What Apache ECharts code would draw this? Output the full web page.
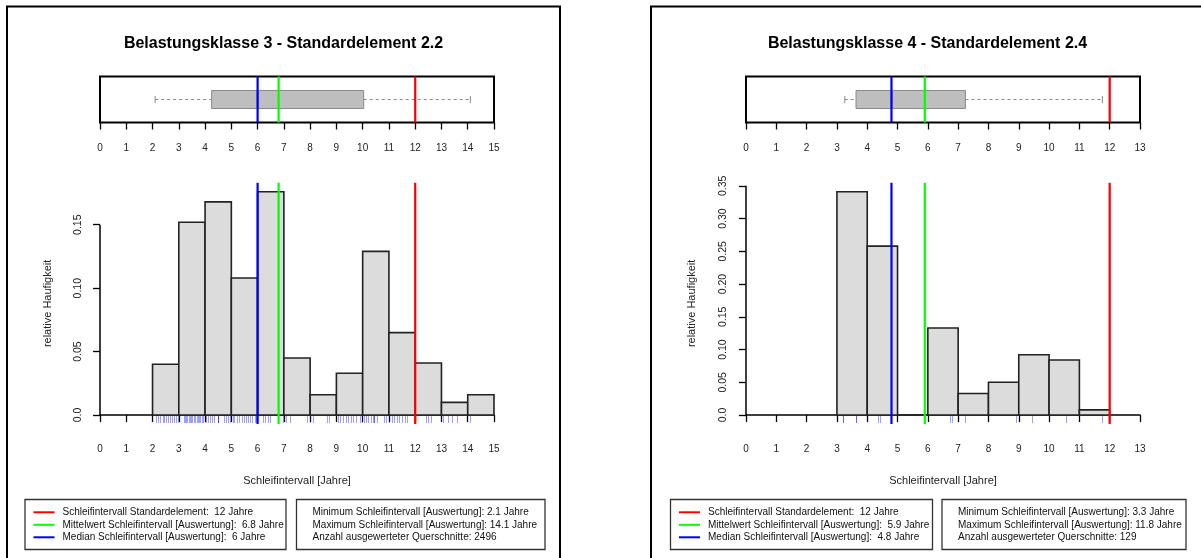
<!DOCTYPE html>
<html><head><meta charset="utf-8">
<script src="https://cdn.jsdelivr.net/npm/echarts@6/dist/echarts.min.js"></script>
<style>html,body{margin:0;padding:0;background:#fff}#c{width:1201px;height:558px}</style>
</head><body><div id="c"></div>
<script>
// ---------------- Data: left panel ----------------
const leftTitle = 'Belastungsklasse 3 - Standardelement 2.2';
const leftBinEdges = [2, 3, 4, 5, 6, 7, 8, 9, 10, 11, 12, 13, 14, 15];
const leftFreq = [0.040, 0.152, 0.168, 0.108, 0.176, 0.045, 0.016, 0.033, 0.129, 0.065, 0.041, 0.010, 0.016];
const leftRug = [2.15, 2.22, 2.3, 2.38, 2.45, 2.52, 2.6, 2.68, 2.75, 2.83, 2.9, 2.98,
  3.18, 3.22, 3.28, 3.32, 3.38, 3.42, 3.48, 3.52, 3.58, 3.62, 3.68, 3.72, 3.78, 3.82, 3.88, 3.92,
  4.02, 4.1, 4.18, 4.25, 4.35, 4.5, 4.5, 4.5, 4.72, 4.8, 4.88, 4.95, 5.05, 5.12, 5.2, 5.3, 5.4,
  5.48, 5.55, 5.62, 5.7, 5.8, 5.9, 5.95, 6.22, 6.3, 6.4, 6.47, 6.98, 7.1, 7.22, 7.87, 8.0, 8.12,
  8.63, 8.72, 9.07, 9.15, 9.25, 9.35, 9.45, 9.55, 9.65, 9.75, 9.9, 9.98, 10.05, 10.12, 10.2,
  10.3, 10.4, 10.45, 10.45, 10.53, 10.8, 10.9, 11.0, 11.1, 11.2, 11.3, 11.4, 11.5, 11.6, 11.67,
  12.43, 12.5, 12.6, 13.07, 13.25, 13.4, 13.58, 14.08];
const leftBoxStats = [2.1, 4.25, 6.0, 10.04, 14.1]; // min, q1, median, q3, max
const leftStd = 12;
const leftMean = 6.8;
const leftMedian = 6;
const leftMin = 2.1;
const leftMax = 14.1;
const leftCount = 2496;
const leftXTicks = [0, 1, 2, 3, 4, 5, 6, 7, 8, 9, 10, 11, 12, 13, 14, 15];
const leftYTicks = [0, 0.05, 0.10, 0.15];
const leftYTickLabels = ['0.0', '0.05', '0.10', '0.15'];

// ---------------- Data: right panel ----------------
const rightTitle = 'Belastungsklasse 4 - Standardelement 2.4';
const rightBinEdges = [3, 4, 5, 6, 7, 8, 9, 10, 11, 12];
const rightFreq = [0.341, 0.258, 0, 0.133, 0.033, 0.050, 0.092, 0.084, 0.008];
const rightRug = [3.21, 3.21, 3.62, 3.62, 4.37, 4.43, 4.8, 6.73, 6.79, 7.24, 8.9, 9.43, 10.55, 11.76];
const rightBoxStats = [3.26, 3.63, 4.8, 7.24, 11.76];
const rightStd = 12;
const rightMean = 5.9;
const rightMedian = 4.8;
const rightMin = 3.3;
const rightMax = 11.8;
const rightCount = 129;
const rightXTicks = [0, 1, 2, 3, 4, 5, 6, 7, 8, 9, 10, 11, 12, 13];
const rightYTicks = [0, 0.05, 0.10, 0.15, 0.20, 0.25, 0.30, 0.35];
const rightYTickLabels = ['0.0', '0.05', '0.10', '0.15', '0.20', '0.25', '0.30', '0.35'];

const xAxisTitle = 'Schleifintervall [Jahre]';
const yAxisTitle = 'relative Haufigkeit';

// ---------------- Build ----------------
const FONT = '"Liberation Sans", Arial, Helvetica, sans-serif';
const RED = '#ff0000', GREEN = '#00ff00', BLUE = '#0000ff';

const panels = [
  { title: leftTitle, edges: leftBinEdges, freq: leftFreq, rug: leftRug, box: leftBoxStats,
    std: leftStd, mean: leftMean, median: leftMedian, min: leftMin, max: leftMax, n: leftCount,
    xTicks: leftXTicks, yTicks: leftYTicks, yLabels: leftYTickLabels,
    L: { frameX: 7, frameW: 553, x0: 100, w: 394, leg1X: 25, leg1W: 261, leg2X: 296.5, leg2W: 248.5, yNameGap: 47, yLabMargin: 16 } },
  { title: rightTitle, edges: rightBinEdges, freq: rightFreq, rug: rightRug, box: rightBoxStats,
    std: rightStd, mean: rightMean, median: rightMedian, min: rightMin, max: rightMax, n: rightCount,
    xTicks: rightXTicks, yTicks: rightYTicks, yLabels: rightYTickLabels,
    L: { frameX: 651, frameW: 553, x0: 746, w: 394, leg1X: 670.5, leg1W: 262, leg2X: 942, leg2W: 244, yNameGap: 48.5, yLabMargin: 17 } }
];

const grids = [], xAxes = [], yAxes = [], series = [], graphics = [];
const BOX_TOP = 76.5, BOX_H = 46, HIST_TOP = 182.8, HIST_H = 241.2;

function fmt(v) { return String(v); }

panels.forEach((d, i) => {
  const L = d.L;
  const gb = i * 2, gh = i * 2 + 1;
  const xMax = d.xTicks[d.xTicks.length - 1];
  const fmax = Math.max.apply(null, d.freq);
  const yMin = -fmax * 0.04, yMax = fmax * 1.04;

  grids.push({ left: L.x0, top: BOX_TOP, width: L.w, height: BOX_H, show: true, borderColor: '#000', borderWidth: 2, backgroundColor: 'transparent' });
  grids.push({ left: L.x0, top: HIST_TOP, width: L.w, height: HIST_H, show: false });

  const labelStyle = { fontSize: 10, color: '#222', fontFamily: FONT };
  xAxes.push({ gridIndex: gb, type: 'value', min: 0, max: xMax, interval: 1,
    axisLine: { show: false }, axisTick: { show: true, length: 7, lineStyle: { color: '#000', width: 1.3 } },
    axisLabel: Object.assign({ margin: 21, showMinLabel: true, showMaxLabel: true }, labelStyle),
    splitLine: { show: false } });
  xAxes.push({ gridIndex: gh, type: 'value', min: 0, max: xMax, interval: 1,
    axisLine: { show: true, lineStyle: { color: '#000', width: 1.5 } },
    axisTick: { show: true, length: 7, lineStyle: { color: '#000', width: 1.3 } },
    axisLabel: Object.assign({ margin: 20, showMinLabel: true, showMaxLabel: true }, labelStyle),
    splitLine: { show: false },
    name: xAxisTitle, nameLocation: 'middle', nameGap: 51,
    nameTextStyle: { fontSize: 11, color: '#222', fontFamily: FONT } });

  yAxes.push({ gridIndex: gb, type: 'value', min: 0, max: 1, show: false });
  yAxes.push({ gridIndex: gh, type: 'value', min: yMin, max: yMax,
    axisLine: { show: false },
    axisTick: { show: true, customValues: d.yTicks, length: 7, lineStyle: { color: '#000', width: 1.3 } },
    axisLabel: Object.assign({ customValues: d.yTicks, rotate: 90, margin: L.yLabMargin,
      formatter: (v) => { const k = d.yTicks.findIndex(t => Math.abs(t - v) < 1e-9); return k >= 0 ? d.yLabels[k] : ''; } }, labelStyle, { fontSize: 10.5 }),
    splitLine: { show: false },
    name: yAxisTitle, nameLocation: 'middle', nameGap: L.yNameGap, nameRotate: 90,
    nameTextStyle: { fontSize: 11, color: '#222', fontFamily: FONT } });

  // --- Boxplot (horizontal) ---
  series.push({ type: 'custom', xAxisIndex: gb, yAxisIndex: gb, silent: true, z: 2,
    data: [d.box],
    renderItem: (params, api) => {
      const cs = params.coordSys;
      const cy = cs.y + cs.height / 2;
      const xs = [0, 1, 2, 3, 4].map(k => api.coord([api.value(k), 0.5])[0]);
      const dash = { stroke: '#8a8a8a', lineWidth: 1, lineDash: [3, 3] };
      const solid = { stroke: '#8a8a8a', lineWidth: 1 };
      return { type: 'group', children: [
        { type: 'line', shape: { x1: xs[0], y1: cy, x2: xs[1], y2: cy }, style: dash },
        { type: 'line', shape: { x1: xs[3], y1: cy, x2: xs[4], y2: cy }, style: dash },
        { type: 'line', shape: { x1: xs[0], y1: cy - 3.6, x2: xs[0], y2: cy + 3.6 }, style: solid },
        { type: 'line', shape: { x1: xs[4], y1: cy - 3.6, x2: xs[4], y2: cy + 3.6 }, style: solid },
        { type: 'rect', shape: { x: xs[1], y: cy - 9, width: xs[3] - xs[1], height: 18 }, style: { fill: '#bebebe', stroke: '#8a8a8a', lineWidth: 1 } },
        { type: 'line', shape: { x1: xs[2], y1: cy - 9, x2: xs[2], y2: cy + 9 }, style: { stroke: '#8a8a8a', lineWidth: 2 } }
      ] };
    } });

  const vData = [
    { value: [d.median, 0.5], itemStyle: { color: BLUE } },
    { value: [d.mean, 0.5], itemStyle: { color: GREEN } },
    { value: [d.std, 0.5], itemStyle: { color: RED } }
  ];
  const vRender = (params, api) => {
    const cs = params.coordSys;
    const x = api.coord([api.value(0), 0])[0];
    return { type: 'line', shape: { x1: x, y1: cs.y, x2: x, y2: cs.y + cs.height }, style: { stroke: api.visual('color'), lineWidth: 2.2 } };
  };
  series.push({ type: 'custom', xAxisIndex: gb, yAxisIndex: gb, silent: true, z: 5, data: vData, renderItem: vRender });

  // --- Histogram bars ---
  const bars = d.freq.map((f, k) => [d.edges[k], d.edges[k + 1], f]);
  series.push({ type: 'custom', xAxisIndex: gh, yAxisIndex: gh, silent: true, z: 2,
    data: bars, encode: { x: [0, 1], y: 2 },
    renderItem: (params, api) => {
      const p0 = api.coord([api.value(0), 0]);
      const p1 = api.coord([api.value(1), api.value(2)]);
      return { type: 'rect', shape: { x: p0[0], y: p1[1], width: p1[0] - p0[0], height: p0[1] - p1[1] },
        style: { fill: '#dcdcdc', stroke: '#222', lineWidth: 1.6 } };
    } });

  // --- Rug ---
  series.push({ type: 'custom', xAxisIndex: gh, yAxisIndex: gh, silent: true, z: 3,
    data: d.rug.map(v => [v, 0]),
    renderItem: (params, api) => {
      const cs = params.coordSys;
      const x = Math.round(api.coord([api.value(0), 0])[0]) + 0.5;
      const yb = cs.y + cs.height;
      return { type: 'line', shape: { x1: x, y1: yb - 1, x2: x, y2: yb - 8 }, style: { stroke: 'rgba(0,0,255,0.38)', lineWidth: 1 } };
    } });

  // --- y axis line (first to last tick) ---
  series.push({ type: 'custom', xAxisIndex: gh, yAxisIndex: gh, silent: true, z: 3,
    data: [[d.yTicks[0], d.yTicks[d.yTicks.length - 1]]],
    renderItem: (params, api) => {
      const cs = params.coordSys;
      const a = api.coord([0, api.value(0)]);
      const b = api.coord([0, api.value(1)]);
      return { type: 'line', shape: { x1: cs.x, y1: a[1], x2: cs.x, y2: b[1] }, style: { stroke: '#000', lineWidth: 1.5 } };
    } });

  series.push({ type: 'custom', xAxisIndex: gh, yAxisIndex: gh, silent: true, z: 5, data: vData, renderItem: vRender });

  // --- Frame ---
  graphics.push({ type: 'rect', shape: { x: L.frameX, y: 6.5, width: L.frameW, height: 600 }, style: { fill: 'none', stroke: '#000', lineWidth: 2 }, silent: true });
  // --- Title ---
  graphics.push({ type: 'text', x: L.frameX + L.frameW / 2, y: 44,
    style: { text: d.title, fill: '#000', font: 'bold 16px ' + FONT, align: 'center', verticalAlign: 'middle', textAlign: 'center', textVerticalAlign: 'middle' } });
  // --- Legend boxes ---
  const LY = 499.5, LH = 50, rows = [512.3, 524.8, 537.3];
  graphics.push({ type: 'rect', shape: { x: L.leg1X, y: LY, width: L.leg1W, height: LH }, style: { fill: 'none', stroke: '#333', lineWidth: 1.3 } });
  graphics.push({ type: 'rect', shape: { x: L.leg2X, y: LY, width: L.leg2W, height: LH }, style: { fill: 'none', stroke: '#333', lineWidth: 1.3 } });
  const leg1 = [
    [RED, 'Schleifintervall Standardelement:  ' + fmt(d.std) + ' Jahre'],
    [GREEN, 'Mittelwert Schleifintervall [Auswertung]:  ' + fmt(d.mean) + ' Jahre'],
    [BLUE, 'Median Schleifintervall [Auswertung]:  ' + fmt(d.median) + ' Jahre']
  ];
  leg1.forEach((e, k) => {
    graphics.push({ type: 'line', shape: { x1: L.leg1X + 8.5, y1: rows[k], x2: L.leg1X + 29.5, y2: rows[k] }, style: { stroke: e[0], lineWidth: 2 } });
    graphics.push({ type: 'text', x: L.leg1X + 37.5, y: rows[k],
      style: { text: e[1], fill: '#111', font: '10px ' + FONT, align: 'left', verticalAlign: 'middle', textAlign: 'left', textVerticalAlign: 'middle' } });
  });
  const leg2 = [
    'Minimum Schleifintervall [Auswertung]: ' + fmt(d.min) + ' Jahre',
    'Maximum Schleifintervall [Auswertung]: ' + fmt(d.max) + ' Jahre',
    'Anzahl ausgewerteter Querschnitte: ' + fmt(d.n)
  ];
  leg2.forEach((t, k) => {
    graphics.push({ type: 'text', x: L.leg2X + 16, y: rows[k],
      style: { text: t, fill: '#111', font: '10px ' + FONT, align: 'left', verticalAlign: 'middle', textAlign: 'left', textVerticalAlign: 'middle' } });
  });
});

const chart = echarts.init(document.getElementById('c'), null, { renderer: 'canvas' });
chart.setOption({
  animation: false,
  backgroundColor: '#fff',
  grid: grids,
  xAxis: xAxes,
  yAxis: yAxes,
  series: series,
  graphic: { elements: graphics }
});
</script>
</body></html>
